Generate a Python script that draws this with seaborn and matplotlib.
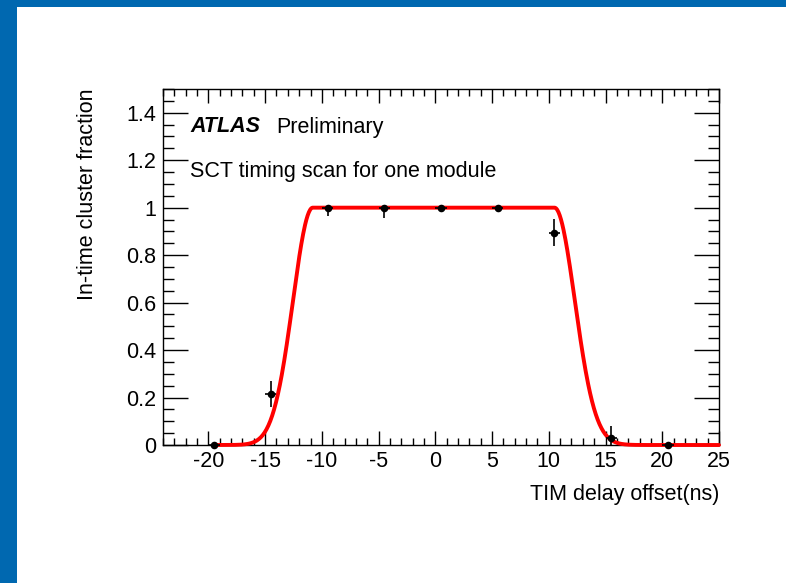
import numpy as np
import pandas as pd
import matplotlib
matplotlib.use("Agg")
import matplotlib.pyplot as plt
from matplotlib.patches import Rectangle
from matplotlib.ticker import MultipleLocator, FuncFormatter
import seaborn as sns

# Measured in-time cluster fraction per TIM delay setting
delay_ns = [-19.5, -14.5, -9.5, -4.5, 0.5, 5.5, 10.5, 15.5, 20.5]
fraction = [0.0, 0.215, 1.0, 1.0, 1.0, 1.0, 0.895, 0.03, 0.0]
err_low = [0.0, 0.055, 0.035, 0.045, 0.01, 0.01, 0.058, 0.03, 0.0]
err_high = [0.0, 0.055, 0.0, 0.0, 0.0, 0.0, 0.058, 0.05, 0.0]
delay_halfwidth = [0.5] * len(delay_ns)

# Fitted plateau with Gaussian edges
fit_plateau = 1.0
fit_rise_edge = -10.8
fit_rise_sigma = 1.75
fit_fall_edge = 10.5
fit_fall_sigma = 1.8
fit_range = (-19.5, 25.0)

x_ticks = [-20, -15, -10, -5, 0, 5, 10, 15, 20, 25]
y_ticks = [0, 0.2, 0.4, 0.6, 0.8, 1.0, 1.2, 1.4]


def plateau_fit(x):
    y = np.full_like(x, fit_plateau)
    lo = x < fit_rise_edge
    hi = x > fit_fall_edge
    y[lo] = fit_plateau * np.exp(-0.5 * ((x[lo] - fit_rise_edge) / fit_rise_sigma) ** 2)
    y[hi] = fit_plateau * np.exp(-0.5 * ((x[hi] - fit_fall_edge) / fit_fall_sigma) ** 2)
    return y


sns.set_theme(style="ticks")
plt.rcParams["font.family"] = ["Liberation Sans", "DejaVu Sans"]

FS = 15.5

fig = plt.figure(figsize=(7.86, 5.83), dpi=100)
fig.patch.set_facecolor("white")

# Blue slide frame along the top and left edges
frame_blue = "#0068b0"
fig.patches.append(Rectangle((0, 0), 17 / 786, 1, transform=fig.transFigure,
                             facecolor=frame_blue, edgecolor="none", zorder=0))
fig.patches.append(Rectangle((0, 1 - 7 / 583), 1, 7 / 583, transform=fig.transFigure,
                             facecolor=frame_blue, edgecolor="none", zorder=0))

ax = fig.add_axes([163 / 786, 1 - 445 / 583, (719 - 163) / 786, (445 - 89) / 583])

fit_x = np.linspace(fit_range[0], fit_range[1], 800)
fit_df = pd.DataFrame({"delay": fit_x, "fraction": plateau_fit(fit_x)})
sns.lineplot(data=fit_df, x="delay", y="fraction", ax=ax, color="#ff0000",
             linewidth=2.8, zorder=3, clip_on=False, legend=False)

points = pd.DataFrame({"delay": delay_ns, "fraction": fraction})
ax.errorbar(delay_ns, fraction, yerr=[err_low, err_high], xerr=delay_halfwidth,
            fmt="none", ecolor="black", elinewidth=1.2, capsize=0, zorder=4, clip_on=False)
sns.scatterplot(data=points, x="delay", y="fraction", ax=ax, color="black",
                s=30, edgecolor="black", linewidth=0, zorder=5, clip_on=False, legend=False)

ax.set_xlim(-24, 25)
ax.set_ylim(0, 1.5)
ax.set_xticks(x_ticks)
ax.set_yticks(y_ticks)
ax.xaxis.set_minor_locator(MultipleLocator(1))
ax.yaxis.set_minor_locator(MultipleLocator(0.05))
ax.yaxis.set_major_formatter(FuncFormatter(lambda v, _: f"{v:g}"))
ax.xaxis.set_major_formatter(FuncFormatter(lambda v, _: f"{v:g}"))

for spine in ax.spines.values():
    spine.set_visible(True)
    spine.set_color("black")
    spine.set_linewidth(1.0)

ax.tick_params(axis="both", which="both", direction="in", top=True, right=True,
               color="black", width=1.0, labelsize=FS, labelcolor="black")
ax.tick_params(axis="x", which="major", length=10, pad=4)
ax.tick_params(axis="x", which="minor", length=5)
ax.tick_params(axis="y", which="major", length=18, pad=5)
ax.tick_params(axis="y", which="minor", length=8)

ax.set_xlabel("")
ax.set_ylabel("")
ax.text(1.0, -0.14, "TIM delay offset(ns)", transform=ax.transAxes,
        ha="right", va="center", fontsize=FS, color="black")
ax.text(-0.135, 1.0, "In-time cluster fraction", transform=ax.transAxes,
        ha="center", va="top", rotation=90, fontsize=FS, color="black")

fig.text(190 / 786, 1 - 127 / 583, "ATLAS", fontsize=FS, fontweight="bold",
         fontstyle="italic", ha="left", va="center", color="black")
fig.text(276 / 786, 1 - 127 / 583, "Preliminary", fontsize=FS,
         ha="left", va="center", color="black")
fig.text(190 / 786, 1 - 172 / 583, "SCT timing scan for one module", fontsize=FS,
         ha="left", va="center", color="black")

fig.savefig("out.png", dpi=100, facecolor="white")
